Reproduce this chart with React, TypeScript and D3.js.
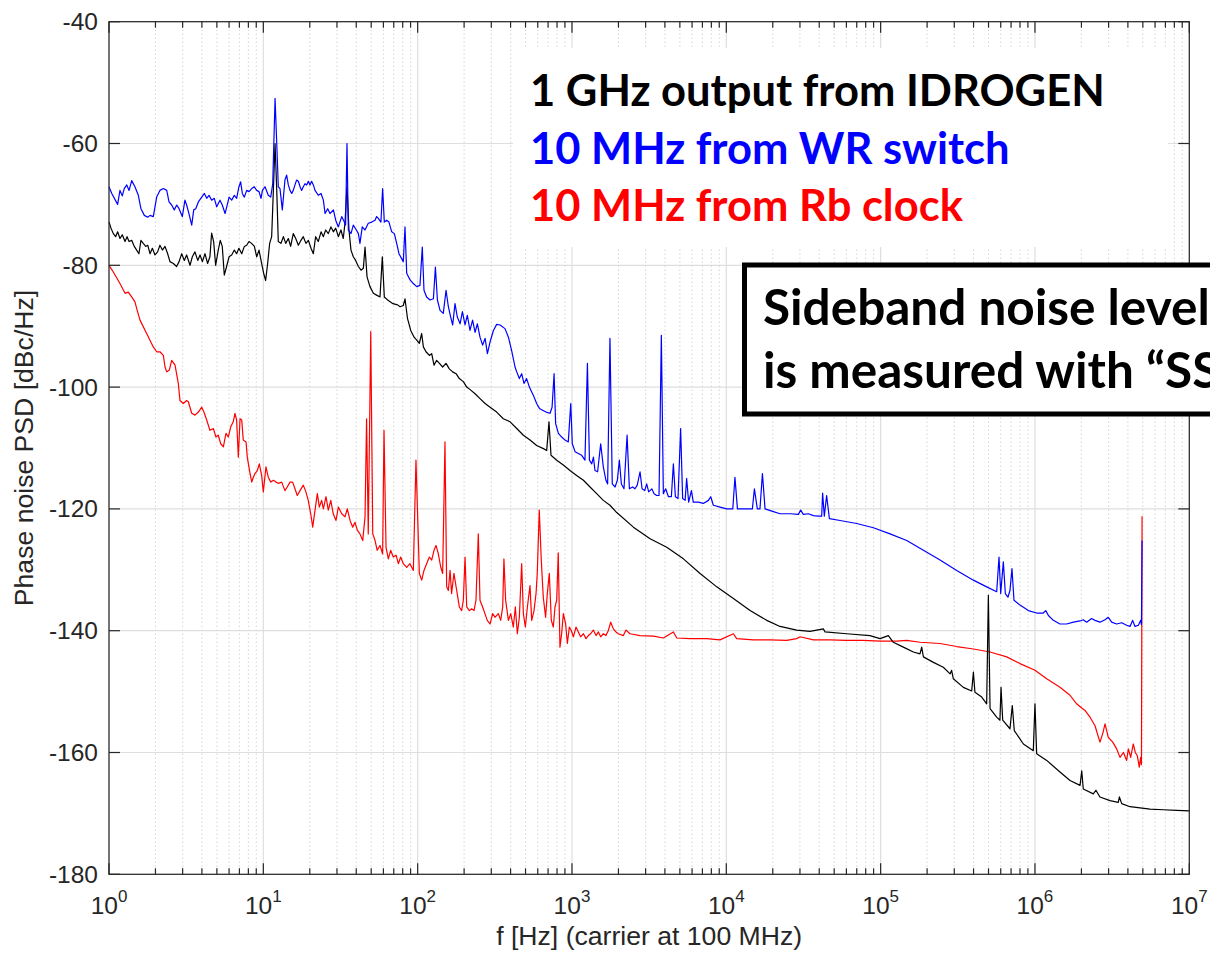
import React from 'react'
import * as d3 from 'd3'

const W = 1210, H = 959
const plot = { left: 109, right: 1189.3, top: 21.7, bottom: 874.3 }

const yTicks = [-40, -60, -80, -100, -120, -140, -160, -180]
const xDecades = [0, 1, 2, 3, 4, 5, 6, 7]
const minorSteps = [2, 3, 4, 5, 6, 7, 8, 9]

const xLabel = 'f [Hz] (carrier at 100 MHz)'
const yLabel = 'Phase noise PSD [dBc/Hz]'

const legendLines = [
  { text: '1 GHz output from IDROGEN', color: '#000000' },
  { text: '10 MHz from WR switch', color: '#0000ff' },
  { text: '10 MHz from Rb clock', color: '#ff0000' },
]
const boxLines = ['Sideband noise level', 'is measured with “SSB”']

// each point: [log10(f in Hz), dBc/Hz]
const idrogen = [
  [0,-72.9],[0.013,-73.9],[0.028,-74.8],[0.043,-75.3],[0.056,-74.5],[0.071,-75.6],[0.086,-75.0],[0.104,-76.1],[0.117,-75.3],[0.130,-76.1],
  [0.147,-75.9],[0.164,-76.9],[0.179,-77.5],[0.194,-78.1],[0.207,-75.9],[0.222,-76.4],[0.238,-76.9],[0.251,-76.7],[0.266,-78.1],[0.281,-77.2],
  [0.298,-78.3],[0.315,-77.8],[0.330,-76.7],[0.346,-77.5],[0.363,-76.9],[0.380,-78.1],[0.395,-79.4],[0.417,-79.7],[0.438,-80.2],[0.454,-79.4],
  [0.471,-78.1],[0.488,-79.2],[0.503,-78.3],[0.525,-80.0],[0.540,-78.6],[0.557,-77.8],[0.575,-79.2],[0.590,-78.3],[0.605,-79.4],[0.622,-78.1],
  [0.639,-79.7],[0.654,-78.6],[0.665,-74.7],[0.678,-76.1],[0.691,-80.0],[0.708,-77.5],[0.721,-75.9],[0.734,-76.9],[0.747,-81.6],[0.762,-80.2],
  [0.778,-78.6],[0.795,-78.3],[0.812,-77.5],[0.827,-78.1],[0.842,-77.2],[0.860,-78.1],[0.877,-76.9],[0.892,-76.7],[0.907,-76.1],[0.924,-76.4],
  [0.942,-76.9],[0.957,-78.6],[0.972,-77.5],[0.989,-79.7],[1.002,-81.3],[1.015,-82.5],[1.028,-79.7],[1.041,-76.4],[1.054,-75.3],[1.065,-67.7],
  [1.076,-60.0],[1.087,-67.7],[1.097,-76.1],[1.114,-76.4],[1.130,-75.3],[1.145,-76.4],[1.162,-75.6],[1.177,-76.9],[1.194,-74.8],[1.210,-75.6],
  [1.227,-76.7],[1.244,-75.9],[1.259,-75.3],[1.276,-76.4],[1.292,-75.9],[1.309,-77.2],[1.324,-78.1],[1.339,-75.3],[1.356,-76.1],[1.374,-74.5],
  [1.389,-75.3],[1.404,-74.2],[1.421,-74.8],[1.438,-73.7],[1.454,-74.5],[1.469,-73.9],[1.486,-75.3],[1.503,-74.2],[1.518,-75.6],[1.529,-73.1],
  [1.542,-67.1],[1.555,-74.2],[1.568,-77.5],[1.583,-78.6],[1.598,-79.2],[1.616,-80.2],[1.633,-80.8],[1.648,-80.5],[1.659,-77.0],[1.672,-81.9],
  [1.691,-83.5],[1.713,-84.6],[1.734,-84.9],[1.756,-85.2],[1.771,-78.6],[1.784,-85.2],[1.810,-85.8],[1.840,-86.3],[1.870,-86.5],[1.886,-86.8],
  [1.907,-86.6],[1.918,-85.5],[1.934,-88.7],[1.955,-90.7],[1.977,-91.8],[1.994,-92.3],[2.011,-92.8],[2.026,-91.2],[2.037,-93.4],[2.054,-94.2],
  [2.076,-94.8],[2.091,-94.5],[2.106,-96.4],[2.123,-95.6],[2.141,-96.1],[2.162,-96.7],[2.184,-96.1],[2.205,-97.0],[2.227,-97.5],[2.249,-97.8],
  [2.270,-98.6],[2.296,-99.1],[2.318,-100.0],[2.344,-100.5],[2.372,-101.1],[2.404,-101.9],[2.437,-102.7],[2.469,-103.3],[2.512,-104.1],[2.555,-105.2],
  [2.599,-105.7],[2.642,-106.8],[2.685,-107.9],[2.728,-108.7],[2.771,-109.6],[2.815,-110.1],[2.836,-110.4],[2.851,-105.7],[2.864,-111.2],[2.901,-112.0],
  [2.944,-112.8],[2.987,-113.7],[3.030,-114.5],[3.074,-115.3],[3.117,-116.4],[3.160,-117.5],[3.203,-118.6],[3.246,-119.4],[3.290,-120.6],[3.398,-123.0],
  [3.506,-124.9],[3.614,-126.3],[3.722,-128.2],[3.830,-130.6],[3.938,-132.8],[4.046,-134.7],[4.154,-136.7],[4.262,-138.3],[4.348,-139.3],[4.456,-139.9],
  [4.542,-140.1],[4.629,-139.7],[4.640,-140.2],[4.780,-140.5],[4.931,-140.8],[4.996,-141.3],[5.050,-140.8],[5.082,-141.9],[5.147,-142.7],[5.212,-143.5],
  [5.255,-143.8],[5.266,-142.7],[5.277,-144.3],[5.342,-145.2],[5.406,-146.0],[5.450,-147.1],[5.460,-146.5],[5.471,-147.9],[5.536,-149.3],[5.590,-149.9],
  [5.601,-146.8],[5.611,-150.1],[5.655,-150.9],[5.687,-152.0],[5.698,-134.2],[5.709,-152.8],[5.752,-154.2],[5.773,-154.7],[5.780,-149.3],[5.791,-154.7],
  [5.838,-156.1],[5.853,-152.3],[5.866,-156.4],[5.925,-158.6],[5.989,-159.7],[6.000,-152.0],[6.011,-160.2],[6.076,-161.3],[6.162,-163.2],[6.227,-164.6],
  [6.292,-165.4],[6.303,-163.0],[6.313,-166.0],[6.378,-166.8],[6.395,-166.2],[6.421,-167.3],[6.486,-167.9],[6.540,-168.2],[6.547,-167.3],[6.562,-168.4],
  [6.616,-168.9],[6.681,-169.1],[6.745,-169.3],[6.832,-169.4],[6.918,-169.5],[7.0,-169.6],
]

const wrSwitch = [
  [0,-67.1],[0.018,-68.2],[0.056,-70.0],[0.071,-67.7],[0.086,-68.6],[0.099,-67.4],[0.115,-66.8],[0.130,-67.7],[0.147,-66.1],[0.168,-67.1],
  [0.190,-68.5],[0.207,-70.7],[0.229,-71.8],[0.251,-72.1],[0.266,-71.8],[0.287,-72.0],[0.309,-68.8],[0.330,-67.7],[0.352,-67.4],[0.374,-67.7],
  [0.389,-69.6],[0.406,-70.1],[0.423,-70.9],[0.439,-70.1],[0.454,-70.7],[0.475,-72.0],[0.492,-69.3],[0.503,-70.1],[0.518,-71.5],[0.536,-73.4],
  [0.549,-70.9],[0.562,-70.7],[0.579,-69.6],[0.601,-68.8],[0.618,-68.2],[0.633,-69.0],[0.648,-68.5],[0.665,-69.3],[0.682,-69.0],[0.698,-70.4],
  [0.719,-69.3],[0.734,-70.1],[0.752,-71.5],[0.769,-69.8],[0.778,-68.8],[0.795,-69.3],[0.812,-68.5],[0.827,-69.0],[0.842,-67.1],[0.853,-66.3],
  [0.864,-68.2],[0.877,-68.8],[0.892,-67.7],[0.907,-67.9],[0.925,-67.4],[0.941,-67.1],[0.957,-67.7],[0.972,-67.9],[0.985,-69.0],[0.994,-67.7],
  [1.011,-67.1],[1.032,-68.5],[1.048,-68.8],[1.061,-66.6],[1.076,-52.6],[1.087,-60.0],[1.097,-67.1],[1.108,-67.4],[1.123,-70.9],[1.140,-66.0],
  [1.151,-65.2],[1.162,-66.8],[1.173,-67.7],[1.184,-68.2],[1.194,-67.7],[1.205,-66.8],[1.216,-66.0],[1.227,-66.2],[1.238,-67.1],[1.248,-67.7],
  [1.259,-67.1],[1.270,-66.6],[1.281,-66.8],[1.292,-66.2],[1.302,-66.8],[1.313,-66.2],[1.324,-66.8],[1.335,-67.7],[1.356,-68.5],[1.374,-68.2],
  [1.389,-69.3],[1.400,-71.5],[1.417,-70.7],[1.432,-71.5],[1.454,-70.9],[1.469,-72.6],[1.486,-73.7],[1.508,-72.0],[1.525,-72.9],[1.533,-73.4],
  [1.542,-60.0],[1.551,-74.2],[1.568,-74.8],[1.583,-73.4],[1.598,-74.0],[1.616,-74.8],[1.626,-76.4],[1.641,-73.7],[1.659,-74.2],[1.680,-73.1],
  [1.702,-72.9],[1.724,-72.6],[1.734,-72.0],[1.745,-72.3],[1.762,-72.9],[1.773,-67.4],[1.784,-72.9],[1.799,-72.6],[1.814,-72.9],[1.832,-74.5],
  [1.849,-74.8],[1.864,-76.4],[1.879,-78.1],[1.896,-78.9],[1.907,-79.4],[1.918,-73.7],[1.929,-81.3],[1.951,-82.4],[1.972,-83.0],[1.994,-83.5],
  [2.015,-83.3],[2.030,-77.0],[2.041,-84.1],[2.058,-85.2],[2.080,-85.7],[2.102,-85.5],[2.115,-80.3],[2.128,-85.7],[2.145,-87.4],[2.166,-87.9],
  [2.184,-84.1],[2.199,-86.8],[2.214,-88.5],[2.227,-89.8],[2.242,-86.3],[2.257,-88.5],[2.275,-89.6],[2.290,-87.6],[2.307,-89.8],[2.322,-88.2],
  [2.339,-90.7],[2.356,-89.0],[2.372,-91.0],[2.387,-89.6],[2.404,-91.8],[2.421,-93.1],[2.437,-92.0],[2.452,-94.5],[2.469,-92.6],[2.491,-90.7],
  [2.512,-89.7],[2.534,-89.8],[2.566,-90.4],[2.588,-91.8],[2.609,-94.0],[2.631,-96.7],[2.642,-97.5],[2.659,-98.6],[2.674,-97.8],[2.689,-99.4],
  [2.706,-98.6],[2.724,-100.0],[2.739,-100.8],[2.754,-101.6],[2.771,-102.7],[2.789,-103.5],[2.810,-103.8],[2.832,-104.1],[2.858,-104.3],[2.871,-103.3],
  [2.884,-97.8],[2.894,-106.0],[2.912,-107.6],[2.933,-108.2],[2.955,-108.7],[2.976,-109.0],[2.992,-102.7],[3.002,-109.3],[3.020,-110.6],[3.041,-110.9],
  [3.063,-111.2],[3.084,-112.0],[3.100,-96.1],[3.113,-112.0],[3.128,-112.6],[3.139,-111.5],[3.149,-113.7],[3.166,-113.9],[3.186,-109.3],[3.203,-113.1],
  [3.220,-115.3],[3.231,-115.9],[3.246,-92.0],[3.261,-115.9],[3.279,-116.4],[3.294,-115.3],[3.307,-112.0],[3.320,-115.9],[3.337,-116.7],[3.357,-107.9],
  [3.372,-116.7],[3.393,-116.4],[3.408,-116.7],[3.423,-116.1],[3.441,-113.9],[3.454,-116.7],[3.471,-117.0],[3.484,-115.9],[3.497,-117.2],[3.517,-116.7],
  [3.532,-117.5],[3.549,-117.8],[3.564,-117.8],[3.579,-91.5],[3.592,-117.5],[3.607,-116.7],[3.625,-118.0],[3.644,-118.0],[3.657,-112.6],[3.670,-118.0],
  [3.687,-118.3],[3.704,-106.8],[3.717,-118.3],[3.733,-118.6],[3.743,-115.0],[3.756,-118.9],[3.774,-117.0],[3.786,-118.9],[3.819,-118.9],[3.851,-119.1],
  [3.884,-118.6],[3.899,-118.0],[3.916,-119.4],[3.959,-119.7],[4.002,-120.0],[4.042,-120.0],[4.056,-114.8],[4.072,-120.0],[4.132,-120.0],[4.169,-120.0],
  [4.182,-116.7],[4.201,-120.0],[4.218,-120.0],[4.234,-114.2],[4.251,-120.0],[4.300,-120.4],[4.348,-120.8],[4.413,-120.8],[4.467,-120.9],[4.482,-120.2],
  [4.499,-120.9],[4.532,-120.8],[4.564,-121.1],[4.596,-121.2],[4.618,-121.2],[4.624,-117.4],[4.635,-121.2],[4.650,-117.8],[4.668,-121.6],[4.737,-121.9],
  [4.845,-122.4],[4.953,-123.1],[5.061,-124.1],[5.169,-125.2],[5.277,-126.8],[5.385,-128.4],[5.493,-130.1],[5.601,-131.7],[5.687,-132.8],[5.752,-133.6],
  [5.767,-127.9],[5.778,-133.9],[5.795,-128.7],[5.808,-133.9],[5.825,-134.5],[5.838,-133.4],[5.851,-129.8],[5.864,-135.0],[5.903,-135.8],[5.957,-136.7],
  [6.011,-137.1],[6.054,-137.1],[6.070,-136.7],[6.087,-137.5],[6.119,-138.3],[6.162,-138.9],[6.205,-138.9],[6.249,-138.6],[6.292,-138.4],[6.313,-138.2],
  [6.335,-138.6],[6.367,-138.0],[6.389,-138.3],[6.421,-138.6],[6.454,-138.2],[6.475,-137.8],[6.497,-138.6],[6.529,-138.9],[6.562,-138.7],[6.594,-139.1],
  [6.616,-139.3],[6.633,-138.3],[6.648,-139.3],[6.670,-139.1],[6.685,-138.3],[6.690,-139.0],[6.694,-125.2],
]

const rbClock = [
  [0,-80.0],[0.028,-81.1],[0.071,-83.0],[0.104,-84.6],[0.125,-84.4],[0.147,-85.2],[0.168,-86.0],[0.185,-87.6],[0.201,-89.0],[0.244,-91.2],
  [0.287,-93.4],[0.309,-94.2],[0.330,-94.2],[0.352,-94.8],[0.363,-96.7],[0.374,-97.5],[0.391,-97.2],[0.406,-95.6],[0.428,-96.4],[0.449,-99.4],
  [0.460,-102.2],[0.481,-102.7],[0.503,-102.2],[0.514,-102.4],[0.536,-104.3],[0.557,-104.6],[0.579,-104.1],[0.601,-103.3],[0.615,-104.1],[0.633,-105.4],
  [0.654,-107.1],[0.676,-106.8],[0.693,-108.2],[0.708,-107.9],[0.724,-109.3],[0.741,-109.8],[0.758,-107.6],[0.773,-108.2],[0.789,-106.5],[0.805,-105.7],
  [0.816,-104.3],[0.827,-105.4],[0.838,-111.5],[0.849,-105.2],[0.860,-105.4],[0.870,-108.7],[0.888,-109.0],[0.896,-111.5],[0.914,-114.2],[0.925,-115.6],
  [0.935,-114.8],[0.946,-114.2],[0.961,-113.7],[0.974,-112.6],[0.989,-114.5],[1.000,-117.2],[1.017,-113.1],[1.032,-114.8],[1.048,-115.6],[1.065,-115.3],
  [1.082,-115.6],[1.097,-115.8],[1.119,-115.6],[1.140,-117.0],[1.155,-116.4],[1.173,-115.6],[1.190,-115.6],[1.205,-116.7],[1.220,-117.8],[1.238,-117.0],
  [1.259,-116.1],[1.276,-117.2],[1.291,-118.6],[1.307,-120.8],[1.320,-123.0],[1.335,-120.2],[1.350,-117.5],[1.363,-119.7],[1.378,-118.6],[1.389,-120.0],
  [1.406,-118.0],[1.421,-120.2],[1.437,-118.6],[1.453,-120.8],[1.471,-121.9],[1.486,-119.7],[1.508,-120.8],[1.529,-121.3],[1.544,-120.0],[1.562,-121.9],
  [1.579,-123.0],[1.594,-122.2],[1.609,-123.5],[1.626,-124.1],[1.644,-125.2],[1.659,-121.3],[1.669,-105.2],[1.680,-124.1],[1.696,-90.9],[1.709,-124.1],
  [1.724,-125.2],[1.738,-126.8],[1.756,-126.0],[1.773,-127.4],[1.782,-107.1],[1.795,-126.3],[1.810,-128.2],[1.825,-126.8],[1.842,-127.9],[1.860,-127.6],
  [1.875,-129.0],[1.890,-127.9],[1.907,-129.0],[1.929,-129.6],[1.950,-129.0],[1.972,-130.1],[1.989,-112.0],[2.011,-130.6],[2.026,-131.7],[2.041,-130.1],
  [2.058,-129.0],[2.076,-127.9],[2.091,-128.4],[2.106,-126.8],[2.119,-126.0],[2.134,-127.4],[2.149,-129.5],[2.162,-130.6],[2.177,-109.0],[2.188,-132.8],
  [2.199,-133.4],[2.210,-130.1],[2.220,-133.9],[2.235,-130.6],[2.253,-133.4],[2.270,-136.1],[2.285,-136.7],[2.296,-135.0],[2.307,-127.9],[2.318,-136.1],
  [2.335,-136.7],[2.350,-136.4],[2.365,-136.7],[2.378,-135.0],[2.393,-124.1],[2.404,-135.0],[2.421,-136.1],[2.436,-137.2],[2.451,-138.3],[2.469,-138.9],
  [2.486,-137.2],[2.501,-137.8],[2.523,-137.2],[2.538,-138.3],[2.551,-136.1],[2.559,-128.2],[2.570,-135.0],[2.588,-138.3],[2.603,-137.2],[2.620,-139.4],
  [2.633,-136.1],[2.646,-140.5],[2.659,-137.8],[2.674,-129.0],[2.685,-137.2],[2.698,-139.4],[2.711,-136.1],[2.728,-132.6],[2.739,-138.3],[2.754,-136.7],
  [2.767,-133.9],[2.775,-130.6],[2.788,-120.2],[2.801,-128.4],[2.814,-134.5],[2.829,-137.8],[2.840,-133.9],[2.853,-130.6],[2.866,-138.3],[2.879,-139.4],
  [2.890,-136.1],[2.901,-135.0],[2.911,-127.2],[2.922,-142.7],[2.933,-140.5],[2.944,-137.2],[2.959,-138.9],[2.970,-142.1],[2.983,-139.4],[2.996,-140.0],
  [3.009,-141.0],[3.026,-139.4],[3.041,-140.2],[3.056,-141.0],[3.074,-140.5],[3.091,-141.3],[3.106,-140.8],[3.121,-140.5],[3.138,-139.9],[3.156,-140.8],
  [3.171,-140.2],[3.186,-141.0],[3.203,-140.5],[3.220,-140.8],[3.235,-140.0],[3.251,-138.6],[3.268,-139.7],[3.285,-140.2],[3.300,-140.5],[3.333,-140.8],
  [3.350,-139.9],[3.376,-140.5],[3.441,-140.8],[3.527,-140.9],[3.592,-141.2],[3.657,-140.2],[3.679,-141.2],[3.765,-141.3],[3.873,-141.3],[3.959,-141.5],
  [4.046,-140.5],[4.067,-141.3],[4.175,-141.5],[4.283,-141.5],[4.391,-141.6],[4.456,-141.3],[4.478,-141.0],[4.564,-141.5],[4.672,-141.5],[4.780,-141.6],
  [4.888,-141.6],[4.996,-141.7],[5.104,-141.7],[5.169,-141.6],[5.255,-141.9],[5.385,-142.1],[5.493,-142.6],[5.601,-143.0],[5.709,-143.5],[5.817,-144.3],
  [5.903,-145.4],[6.000,-146.5],[6.076,-147.9],[6.162,-149.3],[6.227,-150.6],[6.270,-152.0],[6.303,-152.7],[6.324,-153.1],[6.357,-154.2],[6.389,-155.6],
  [6.421,-158.3],[6.439,-156.9],[6.454,-155.3],[6.475,-157.5],[6.504,-158.3],[6.529,-159.4],[6.551,-160.8],[6.573,-160.0],[6.594,-161.3],[6.605,-159.4],
  [6.620,-160.8],[6.637,-158.6],[6.650,-160.0],[6.663,-160.5],[6.676,-162.4],[6.685,-160.8],[6.690,-162.0],[6.694,-121.2],
]

const series = [
  { name: 'rb', data: rbClock, color: '#ff0000' },
  { name: 'idrogen', data: idrogen, color: '#000000' },
  { name: 'wr', data: wrSwitch, color: '#0000ff' },
]

const axisColor = '#262626'
const tickFont = '"Liberation Sans", Helvetica, Arial, sans-serif'
const slideFont = 'Lato, Carlito, Calibri, sans-serif'

export default function App() {
  const x = d3.scaleLog().domain([1, 1e7]).range([plot.left, plot.right])
  const y = d3.scaleLinear().domain([-180, -40]).range([plot.bottom, plot.top])

  const line = d3.line<number[]>()
    .x(d => x(10 ** d[0]))
    .y(d => y(d[1]))

  const majors = xDecades.map(k => 10 ** k)
  const minors = xDecades.slice(0, -1).flatMap(k => minorSteps.map(m => m * 10 ** k))

  return (
    <svg width={W} height={H} style={{ position: 'fixed', left: 0, top: 0, background: '#fff' }}>
      <rect width={W} height={H} fill="#fff" />

      {/* grid */}
      <g>
        {minors.map(v => (
          <line key={'mg' + v} x1={x(v)} x2={x(v)} y1={plot.top} y2={plot.bottom}
            stroke="#bfbfbf" strokeWidth={1} strokeDasharray="1 3" />
        ))}
        {majors.map(v => (
          <line key={'Mg' + v} x1={x(v)} x2={x(v)} y1={plot.top} y2={plot.bottom}
            stroke="#dedede" strokeWidth={1.2} />
        ))}
        {yTicks.map(v => (
          <line key={'yg' + v} x1={plot.left} x2={plot.right} y1={y(v)} y2={y(v)}
            stroke="#dedede" strokeWidth={1.2} />
        ))}
      </g>

      {/* white patch behind the legend text */}
      <rect x={513} y={48} width={655} height={199} fill="#fff" />

      {/* data */}
      <g fill="none" strokeWidth={1.2} strokeLinejoin="round">
        {series.map(s => (
          <path key={s.name} d={line(s.data) || ''} stroke={s.color} />
        ))}
      </g>

      {/* axes box and ticks */}
      <g stroke={axisColor} strokeWidth={1.2}>
        <rect x={plot.left} y={plot.top} width={plot.right - plot.left} height={plot.bottom - plot.top} fill="none" />
        {majors.map(v => (
          <g key={'Mt' + v}>
            <line x1={x(v)} x2={x(v)} y1={plot.bottom} y2={plot.bottom - 11} />
            <line x1={x(v)} x2={x(v)} y1={plot.top} y2={plot.top + 11} />
          </g>
        ))}
        {minors.map(v => (
          <g key={'mt' + v}>
            <line x1={x(v)} x2={x(v)} y1={plot.bottom} y2={plot.bottom - 6} />
            <line x1={x(v)} x2={x(v)} y1={plot.top} y2={plot.top + 6} />
          </g>
        ))}
        {yTicks.map(v => (
          <g key={'yt' + v}>
            <line x1={plot.left} x2={plot.left + 11} y1={y(v)} y2={y(v)} />
            <line x1={plot.right} x2={plot.right - 11} y1={y(v)} y2={y(v)} />
          </g>
        ))}
      </g>

      {/* tick labels */}
      <g fill={axisColor} fontFamily={tickFont}>
        {yTicks.map(v => (
          <text key={'yl' + v} x={plot.left - 11} y={y(v) + 8.5} fontSize={24.5} textAnchor="end">{v}</text>
        ))}
        {xDecades.map(k => (
          <text key={'xl' + k} x={x(10 ** k)} y={914} fontSize={24.5} textAnchor="middle">
            <tspan>10</tspan>
            <tspan dy={-12} fontSize={17}>{k}</tspan>
          </text>
        ))}
        <text x={(plot.left + plot.right) / 2} y={945} fontSize={26.6} textAnchor="middle">{xLabel}</text>
        <text transform={`translate(33,${(plot.top + plot.bottom) / 2}) rotate(-90)`} fontSize={26.6} textAnchor="middle">{yLabel}</text>
      </g>

      {/* legend text */}
      <g fontFamily={slideFont} fontWeight="bold" fontSize={43.5}>
        {legendLines.map((l, i) => (
          <text key={l.text} x={530} y={106 + i * 57.5} fill={l.color}>{l.text}</text>
        ))}
      </g>

      {/* sideband annotation box, running past the right edge as in the slide */}
      <g>
        <rect x={744.5} y={265} width={540} height={149} fill="#fff" stroke="#000" strokeWidth={5} />
        <g fontFamily={slideFont} fontWeight="bold" fontSize={49.5} fill="#000">
          {boxLines.map((t, i) => (
            <text key={t} x={763} y={325 + i * 63}>{t}</text>
          ))}
        </g>
      </g>
    </svg>
  )
}
